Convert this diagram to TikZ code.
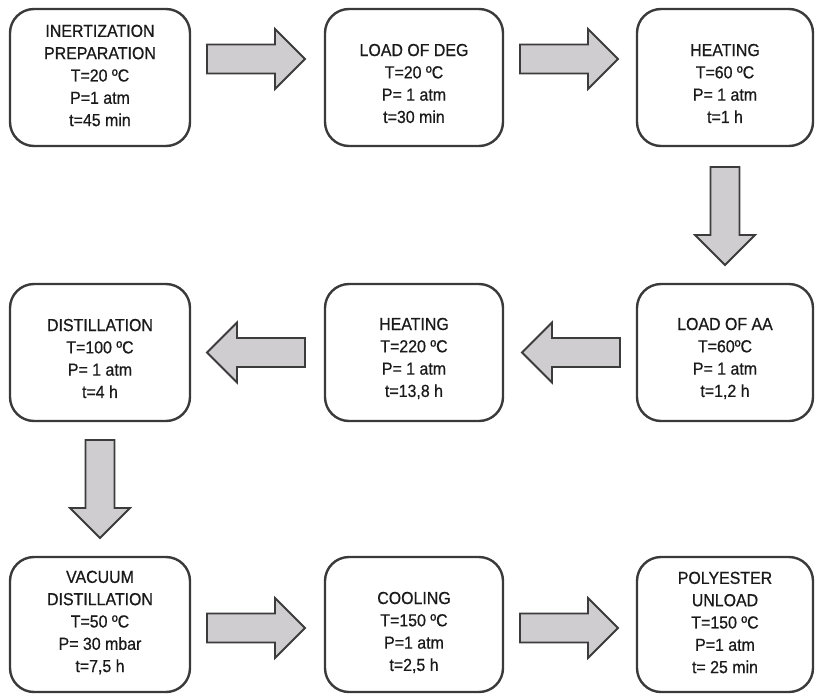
\documentclass[tikz,border=0pt]{standalone}
\usepackage{fontspec}
\setmainfont[FakeStretch=0.915,FakeBold=0.6]{Liberation Sans}
\usetikzlibrary{calc}
\definecolor{boxline}{HTML}{3A3A3A}
\definecolor{arrfill}{HTML}{CFCDCF}
\definecolor{arrline}{HTML}{3C3C3C}
\definecolor{txt}{HTML}{1A1A1A}
\tikzset{
  stepbox/.style={draw=boxline, line width=2.4pt, rounded corners=24pt, fill=white, inner sep=0pt},
  steptext/.style={align=center, text=txt, inner sep=0pt,
    font=\fontsize{17.4}{22.3}\selectfont},
  blockarrow/.style={draw=arrline, fill=arrfill, line width=1.8pt, line join=miter},
  barrow/.pic={\draw[blockarrow] (-49,-14.5) -- (19,-14.5) -- (19,-30) -- (49,0) -- (19,30) -- (19,14.5) -- (-49,14.5) -- cycle;}
}
\begin{document}
\begin{tikzpicture}[x=1pt,y=-1pt]
\useasboundingbox (0,0) rectangle (816,696);
% boxes
\node[stepbox, minimum width=180pt, minimum height=137pt] (b1) at (100,77.5) {};
\node[stepbox, minimum width=178pt, minimum height=137pt] (b2) at (414,77.5) {};
\node[stepbox, minimum width=176pt, minimum height=137pt] (b3) at (725,77.5) {};
\node[stepbox, minimum width=176pt, minimum height=137pt] (b4) at (725,352.5) {};
\node[stepbox, minimum width=178pt, minimum height=137pt] (b5) at (414,352.5) {};
\node[stepbox, minimum width=180pt, minimum height=137pt] (b6) at (100,352.5) {};
\node[stepbox, minimum width=180pt, minimum height=135pt] (b7) at (100,624.5) {};
\node[stepbox, minimum width=178pt, minimum height=135pt] (b8) at (414,624.5) {};
\node[stepbox, minimum width=176pt, minimum height=135pt] (b9) at (725,624.5) {};
% texts
\node[steptext] (t1) at ($(b1.center)+(0,-2)$) {INERTIZATION\\PREPARATION\\T=20 ºC\\P=1 atm\\t=45 min};
\node[steptext] (t2) at ($(b2.center)+(0,6)$) {LOAD OF DEG\\T=20 ºC\\P= 1 atm\\t=30 min};
\node[steptext] (t3) at ($(b3.center)+(0,6)$) {HEATING\\T=60 ºC\\P= 1 atm\\t=1 h};
\node[steptext] (t4) at ($(b4.center)+(0,6)$) {LOAD OF AA\\T=60ºC\\P= 1 atm\\t=1,2 h};
\node[steptext] (t5) at ($(b5.center)+(0,6)$) {HEATING\\T=220 ºC\\P= 1 atm\\t=13,8 h};
\node[steptext] (t6) at ($(b6.center)+(0,6)$) {DISTILLATION\\T=100 ºC\\P= 1 atm\\t=4 h};
\node[steptext] (t7) at ($(b7.center)+(0,-2)$) {VACUUM\\DISTILLATION\\T=50 ºC\\P= 30 mbar\\t=7,5 h};
\node[steptext] (t8) at ($(b8.center)+(0,8)$) {COOLING\\T=150 ºC\\P=1 atm\\t=2,5 h};
\node[steptext] (t9) at ($(b9.center)+(0,-2)$) {POLYESTER\\UNLOAD\\T=150 ºC\\P=1 atm\\t= 25 min};
% arrows
\coordinate (a12) at ($(b1.east)!0.5!(b2.west)+(-1.5,-18.5)$);
\coordinate (a23) at ($(b2.east)!0.5!(b3.west)+(-1,-18.5)$);
\coordinate (a34) at ($(b3.south)!0.5!(b4.north)+(0,1)$);
\coordinate (a45) at ($(b5.east)!0.5!(b4.west)+(1,0)$);
\coordinate (a56) at ($(b6.east)!0.5!(b5.west)+(-1.5,0)$);
\coordinate (a67) at ($(b6.south)!0.5!(b7.north)+(0,0)$);
\coordinate (a78) at ($(b7.east)!0.5!(b8.west)+(-1.5,3.5)$);
\coordinate (a89) at ($(b8.east)!0.5!(b9.west)+(-1,3.5)$);
\pic at (a12) {barrow};
\pic at (a23) {barrow};
\pic[rotate=-90] at (a34) {barrow};
\pic[rotate=180] at (a45) {barrow};
\pic[rotate=180] at (a56) {barrow};
\pic[rotate=-90] at (a67) {barrow};
\pic at (a78) {barrow};
\pic at (a89) {barrow};
\end{tikzpicture}
\end{document}
